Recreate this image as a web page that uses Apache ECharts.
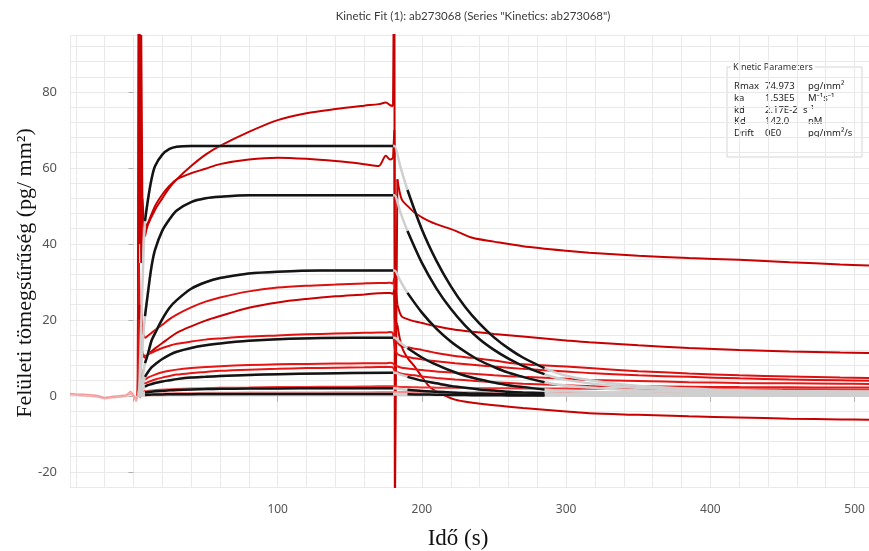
<!DOCTYPE html>
<html><head><meta charset="utf-8">
<script src="https://cdn.jsdelivr.net/npm/echarts@6/dist/echarts.min.js"></script>
<style>html,body{margin:0;padding:0;background:#fff}#c{width:869px;height:551px}</style>
</head><body><div id="c"></div>
<script>
// ---- tick labels ----
const xLabelValues = [100, 200, 300, 400, 500];
const xTickValues = [0, 100, 200, 300, 400, 500];
const yLabelValues = [-20, 0, 20, 40, 60, 80];

// ---- measured curves (red) ----
const baseT = [-44, -40, -35, -30, -25, -20, -15, -10, -5, -2, 0, 2, 3];
const base1 = [0.6, 0.5, 0.4, 0.3, 0.1, -0.5, -0.2, 0, 0.2, 1.2, 0.3, -0.8, 0];
const base2 = [0.3, 0.2, 0.0, -0.1, -0.3, -0.8, -0.5, -0.4, -0.1, 0.6, -0.2, -1.5, 0];

const injT = [3, 3.8, 4.6, 5.4, 6.2, 7];
const assocT = [8, 10, 15, 20, 25, 30, 40, 50, 60, 80, 100, 120, 140, 160, 170, 175, 178, 180];
const spikeT = [180.9, 181.3];
const dissT = [183, 186, 190, 195, 200, 205, 210, 223, 235, 250, 270, 300, 316, 350, 385, 420, 455, 490, 510];

const inj1 = [0, 130, 40, 95, 50, 46];
const inj2 = [0, 125, 70, 35, 52, 47];
const inj3 = [0, 35, 14, 24, 17, 16];
const inj4 = [0, 24, 8, 15, 11, 10.5];
const inj5 = [0, 20, 9, 14, 11, 10.8];
const inj6 = [0, 10, 3, 7, 4.8, 4.5];
const inj7 = [0, 7, 2, 5, 3.6, 3.4];
const inj8 = [0, 3.5, 0.5, 2, 1.4, 1.3];
const inj9 = [0, 1.8, 0.1, 1.0, 0.6, 0.5];
const inj10 = [0, 1.2, -0.6, 0.5, 0.2, 0.1];

const assoc1 = [42, 45, 49, 52, 54.8, 57, 60.5, 63.5, 65.8, 69.5, 72.6, 74.4, 75.5, 76.4, 76.8, 77.2, 76.5, 76.3];
const assoc2 = [44.5, 45.5, 50, 53, 55.3, 57, 58.6, 59.8, 61, 62.2, 62.7, 62.4, 61.8, 61, 60.5, 63.2, 62.2, 62.6];
const assoc3 = [15.2, 15.8, 17.3, 18.7, 20.2, 21.4, 23.3, 24.8, 25.9, 27.5, 28.5, 29.0, 29.3, 29.6, 29.7, 29.7, 29.8, 29.5];
const assoc4 = [9.9, 10.8, 12.5, 13.9, 15.3, 16.6, 18.3, 19.8, 21, 23.2, 24.6, 25.5, 26.2, 26.7, 27.0, 27.1, 27.1, 26.8];
const assoc5 = [10.4, 10.9, 11.8, 12.6, 13.2, 13.7, 14.3, 14.8, 15.1, 15.6, 15.9, 16.2, 16.4, 16.6, 16.7, 16.7, 16.8, 16.6];
const assoc6 = [4.2, 4.8, 5.6, 6.2, 6.6, 6.9, 7.3, 7.6, 7.8, 8.1, 8.3, 8.4, 8.5, 8.6, 8.6, 8.6, 8.7, 8.6];
const assoc7 = [3.2, 3.6, 4.3, 4.8, 5.2, 5.6, 6.0, 6.3, 6.6, 6.9, 7.1, 7.3, 7.4, 7.5, 7.6, 7.6, 7.6, 7.5];
const assoc8 = [1.2, 1.3, 1.5, 1.6, 1.7, 1.8, 1.9, 2.0, 2.1, 2.2, 2.3, 2.35, 2.4, 2.45, 2.5, 2.5, 2.5, 2.5];
const assoc9 = [0.5, 0.55, 0.6, 0.65, 0.7, 0.72, 0.75, 0.8, 0.82, 0.85, 0.88, 0.9, 0.92, 0.95, 1.0, 1.0, 1.0, 1.0];
const assoc10 = [0.1, 0.12, 0.15, 0.17, 0.2, 0.2, 0.22, 0.24, 0.25, 0.26, 0.28, 0.28, 0.3, 0.3, 0.3, 0.3, 0.3, 0.3];

const spike1 = [130, -30];
const spike2 = [70, 30];
const spike3 = [31, 15];
const spike4 = [28, 20];
const spike5 = [17, 12];
const spike6 = [9, 8];
const spike7 = [8, 6.5];
const spike8 = [2.5, 2.4];
const spike9 = [1, 1];
const spike10 = [0.3, 0.3];

const diss1 = [57, 51.7, 50, 48.2, 47, 46, 45.2, 43.5, 41.6, 40.6, 39.4, 38.2, 37.7, 36.9, 36.3, 35.8, 35.2, 34.6, 34.3];
const diss2 = [24, 20.9, 20.2, 19.6, 19.2, 18.7, 18.3, 17.4, 16.9, 16.3, 15.6, 14.6, 14.1, 13.3, 12.6, 12.1, 11.7, 11.4, 11.3];
const diss3 = [14, 13, 12.8, 12.4, 12.1, 11.7, 11.3, 10.5, 10, 9.3, 8.3, 7.7, 7.3, 6.5, 5.9, 5.4, 5.1, 4.8, 4.7];
const diss4 = [18.7, 13, 10, 7.7, 5, 2.5, 1.2, -1, -1.8, -2.5, -3.2, -4.1, -4.6, -5.0, -5.4, -5.7, -6.0, -6.2, -6.3];
const diss5 = [11, 10.5, 10.2, 9.9, 9.6, 9.3, 9.1, 8.6, 8.2, 7.7, 7.1, 6.4, 6.0, 5.4, 5.0, 4.6, 4.3, 4.1, 4.0];
const diss6 = [7.8, 7.4, 7.2, 7.0, 6.8, 6.6, 6.4, 6.1, 5.8, 5.4, 5.0, 4.5, 4.2, 3.9, 3.6, 3.4, 3.3, 3.2, 3.1];
const diss7 = [6.2, 5.8, 5.6, 5.4, 5.1, 4.9, 4.7, 4.3, 4.0, 3.6, 3.2, 2.8, 2.6, 2.5, 2.4, 2.3, 2.25, 2.2, 2.2];
const diss8 = [2.4, 2.3, 2.3, 2.25, 2.2, 2.2, 2.15, 2.1, 2.05, 2.0, 1.95, 1.9, 1.85, 1.8, 1.8, 1.75, 1.75, 1.7, 1.7];
const diss9 = [1.0, 1.0, 1.0, 1.0, 0.98, 0.97, 0.96, 0.95, 0.94, 0.92, 0.9, 0.9, 0.88, 0.86, 0.85, 0.84, 0.83, 0.82, 0.8];
const diss10 = [0.3, 0.3, 0.3, 0.3, 0.3, 0.3, 0.3, 0.3, 0.3, 0.3, 0.29, 0.28, 0.28, 0.27, 0.26, 0.25, 0.24, 0.23, 0.22];

// ---- fitted curves (black fitted windows, grey outside) ----
const fitT = [4, 5, 6.5, 8, 10, 12.5, 15, 20, 25, 30, 40, 50, 60, 80, 100, 130, 180];
const fitDissT = [181, 185, 190, 200, 210, 220, 230, 240, 250, 260, 270, 285];
const tailT = [300, 330, 360, 400, 450, 510];

const fitA = [0, 14, 32, 46, 51.5, 57, 60.5, 63.5, 65, 65.6, 65.8, 65.8, 65.8, 65.8, 65.8, 65.8, 65.8];
const fitB = [0, 6, 14, 21, 27, 34, 38.5, 43.5, 46.5, 48.8, 51, 52, 52.4, 52.8, 52.8, 52.8, 52.8];
const fitC = [0, 2, 5, 8.6, 11, 14.5, 16.5, 20.2, 23.2, 25.2, 28.2, 29.9, 31, 32.2, 32.7, 33, 33];
const fitD = [0, 1.2, 3, 5, 6.2, 7.5, 8.3, 9.7, 10.8, 11.6, 12.6, 13.3, 13.8, 14.5, 14.9, 15.2, 15.3];
const fitE = [0, 0.6, 1.5, 2.4, 2.8, 3.1, 3.4, 3.8, 4.1, 4.4, 4.8, 5.0, 5.2, 5.5, 5.7, 5.9, 6.1];
const fitF = [0, 0.3, 0.6, 0.9, 1.0, 1.1, 1.2, 1.35, 1.45, 1.55, 1.7, 1.8, 1.85, 1.9, 1.95, 2.0, 2.0];
const fitG = [0, 0.1, 0.2, 0.25, 0.3, 0.32, 0.35, 0.38, 0.4, 0.42, 0.45, 0.47, 0.48, 0.5, 0.5, 0.5, 0.5];

const fitDissA = [65.8, 60.4, 54.2, 43.8, 35.6, 28.9, 23.4, 19.0, 15.4, 12.5, 10.1, 7.3];
const fitDissB = [52.8, 48.4, 43.4, 35.0, 28.3, 22.9, 18.5, 14.9, 12.1, 9.8, 7.9, 5.7];
const fitDissC = [33, 30.3, 27.1, 21.9, 17.7, 14.3, 11.6, 9.3, 7.6, 6.1, 5.0, 3.6];
const fitDissD = [15.3, 14.0, 12.6, 10.1, 8.2, 6.6, 5.3, 4.3, 3.5, 2.8, 2.3, 1.7];
const fitDissE = [6.1, 5.6, 5.0, 4.0, 3.3, 2.6, 2.1, 1.7, 1.4, 1.1, 0.9, 0.7];
const fitDissF = [2.0, 1.8, 1.6, 1.3, 1.1, 0.9, 0.7, 0.6, 0.5, 0.4, 0.3, 0.25];
const fitDissG = [0.5, 0.46, 0.42, 0.35, 0.3, 0.25, 0.2, 0.17, 0.14, 0.12, 0.1, 0.08];

const tailA = [5.3, 3.4, 2.4, 1.7, 1.3, 1.1];
const tailB = [4.2, 2.7, 1.9, 1.4, 1.1, 0.9];
const tailC = [2.7, 1.8, 1.3, 1.0, 0.8, 0.7];
const tailD = [1.3, 0.9, 0.7, 0.6, 0.5, 0.5];
const tailE = [0.55, 0.45, 0.4, 0.35, 0.3, 0.3];
const tailF = [0.2, 0.18, 0.15, 0.12, 0.1, 0.1];
const tailG = [0.06, 0.05, 0.05, 0.04, 0.04, 0.03];

// ---- kinetic parameters box ----
const paramNames = ['Rmax', 'ka', 'kd', 'Kd', 'Drift'];
const paramValues = ['74.973', '1.53E5', '2.17E-2', '142.0', '0E0'];
const paramUnits = ['pg/mm\u00B2', 'M\u207B\u00B9s\u207B\u00B9', 's\u207B\u00B9', 'nM', 'pg/mm\u00B2/s'];

function pairs(ts, vs) { return ts.map((t, i) => [t, vs[i]]); }
function last(ts, vs) { return [[ts[ts.length - 1], vs[vs.length - 1]]]; }
function first(ts, vs) { return [[ts[0], vs[0]]]; }

const reds = [
  [inj1, assoc1, spike1, diss1, '#c80000'],
  [inj2, assoc2, spike2, diss2, '#c80000'],
  [inj3, assoc3, spike3, diss3, '#dd0f0f'],
  [inj4, assoc4, spike4, diss4, '#c80000'],
  [inj5, assoc5, spike5, diss5, '#e31010'],
  [inj6, assoc6, spike6, diss6, '#e81515'],
  [inj7, assoc7, spike7, diss7, '#e81515'],
  [inj8, assoc8, spike8, diss8, '#ee3030'],
  [inj9, assoc9, spike9, diss9, '#f38a8a'],
  [inj10, assoc10, spike10, diss10, '#f5a0a0']
];
const fits = [
  [fitA, fitDissA, tailA], [fitB, fitDissB, tailB], [fitC, fitDissC, tailC],
  [fitD, fitDissD, tailD], [fitE, fitDissE, tailE], [fitF, fitDissF, tailF], [fitG, fitDissG, tailG]
];

const series = [];
function line(data, color, width, smooth) {
  return { type: 'line', data: data, showSymbol: false, symbol: 'none', silent: true,
    smooth: smooth ? 0.3 : false, clip: true,
    lineStyle: { color: color, width: width }, xAxisIndex: 0, yAxisIndex: 0 };
}
series.push(line(pairs(baseT, base1), '#f29a9a', 1.5, false));
series.push(line(pairs(baseT, base2), '#f4a8a8', 1.5, false));
reds.forEach(r => {
  const c = r[4];
  // injection transient (straight segments)
  series.push(line(pairs(injT, r[0]).concat(first(assocT, r[1])), c, 2, false));
  // association (smooth)
  series.push(line(pairs(assocT, r[1]), c, 2, true));
  // switch to buffer transient (straight segments)
  series.push(line(last(assocT, r[1]).concat(pairs(spikeT, r[2]), first(dissT, r[3])), c, 2, false));
  // dissociation (smooth)
  series.push(line(pairs(dissT, r[3]), c, 2, true));
});
fits.forEach(f => {
  series.push(line(pairs(fitT, f[0]), '#cfcfcf', 2.5, true));
  series.push(line(last(fitT, f[0]).concat(pairs(fitDissT, f[1]), pairs(tailT, f[2])), '#cfcfcf', 2.5, true));
});
fits.forEach(f => {
  series.push(line(pairs(fitT.slice(3), f[0].slice(3)), '#141414', 2.5, true));
  series.push(line(pairs(fitDissT.slice(2), f[1].slice(2)), '#141414', 2.5, true));
});

const txtFont = '9.5px "Noto Sans"';
const graphic = [
  { type: 'text', style: { x: 473, y: 16, text: 'Kinetic Fit (1): ab273068 (Series "Kinetics: ab273068")',
    fill: '#3a3a3a', font: '11.5px Lato', textAlign: 'center', textVerticalAlign: 'middle' } },
  { type: 'text', x: 25, y: 273, rotation: Math.PI / 2, style: { x: 0, y: 0, text: 'Felületi tömegsűrűség (pg/ mm²)',
    fill: '#111', font: '22px "Liberation Serif"', textAlign: 'center', textVerticalAlign: 'middle' } },
  { type: 'text', style: { x: 458, y: 539, text: 'Idő (s)', fill: '#111', font: '23px "Liberation Serif"',
    textAlign: 'center', textVerticalAlign: 'middle' } },
  { type: 'rect', shape: { x: 727, y: 67, width: 135, height: 90 },
    style: { fill: 'rgba(255,255,255,0.6)', stroke: '#d6d6d6', lineWidth: 1 } },
  { type: 'text', style: { x: 731, y: 67, text: 'Kinetic Parameters', fill: '#333', font: '9px "Noto Sans"',
    textAlign: 'left', textVerticalAlign: 'middle', backgroundColor: '#fff', padding: [1, 2, 1, 2] } }
];
const rowY = [86.7, 98.3, 110, 121.7, 133.3];
paramNames.forEach((n, i) => {
  graphic.push({ type: 'text', style: { x: 734, y: rowY[i], text: n, fill: '#222', font: txtFont, textVerticalAlign: 'middle' } });
  graphic.push({ type: 'text', style: { x: 765, y: rowY[i], text: paramValues[i], fill: '#222', font: txtFont, textVerticalAlign: 'middle' } });
  graphic.push({ type: 'text', style: { x: i === 2 ? 803 : 808, y: rowY[i], text: paramUnits[i], fill: '#222', font: txtFont, textVerticalAlign: 'middle' } });
});

const chart = echarts.init(document.getElementById('c'), null, { renderer: 'canvas' });
chart.setOption({
  animation: false,
  backgroundColor: '#fff',
  grid: { left: 70, right: 0, top: 35, bottom: 64, containLabel: false },
  xAxis: [
    { type: 'value', min: -44, max: 510, minInterval: 20, maxInterval: 20, splitNumber: 28,
      axisLine: { show: false }, axisTick: { show: false }, axisLabel: { show: false },
      splitLine: { show: true, lineStyle: { color: '#e9e9e9', width: 1 } } },
    { type: 'value', min: -44, max: 510, position: 'bottom', offset: 5,
      axisLine: { show: false }, splitLine: { show: false },
      axisTick: { show: true, customValues: xTickValues, length: 6, lineStyle: { color: '#b0b0b0' } },
      axisLabel: { customValues: xLabelValues, color: '#555', fontSize: 12, fontFamily: 'Noto Sans', margin: 12 } }
  ],
  yAxis: [
    { type: 'value', min: -24, max: 95, interval: 4,
      axisLine: { show: false }, axisTick: { show: false }, axisLabel: { show: false },
      splitLine: { show: true, lineStyle: { color: '#e9e9e9', width: 1 } } },
    { type: 'value', min: -24, max: 95, position: 'left', offset: 2,
      axisLine: { show: false }, splitLine: { show: false },
      axisTick: { show: true, customValues: yLabelValues, length: 5, lineStyle: { color: '#b0b0b0' } },
      axisLabel: { customValues: yLabelValues, color: '#555', fontSize: 13, fontFamily: 'Noto Sans', margin: 11 } }
  ],
  graphic: graphic,
  series: series
});
</script>
</body></html>
